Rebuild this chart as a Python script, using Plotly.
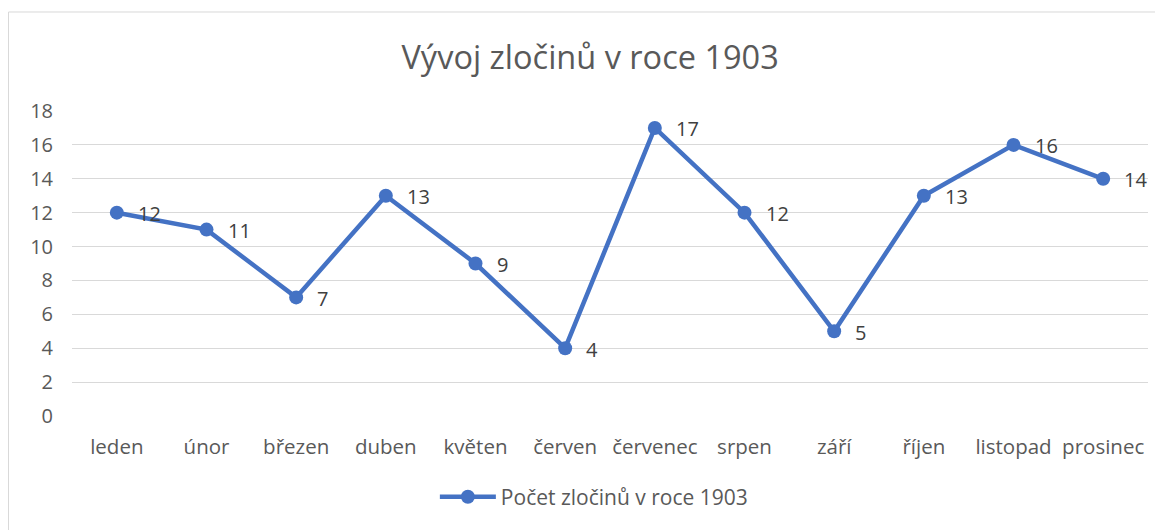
import plotly.graph_objects as go

months = ["leden", "únor", "březen", "duben", "květen", "červen",
          "červenec", "srpen", "září", "říjen", "listopad", "prosinec"]
counts = [12, 11, 7, 13, 9, 4, 17, 12, 5, 13, 16, 14]
series_name = "Počet zločinů v roce 1903"
title_text = "Vývoj zločinů v roce 1903"
y_ticks = list(range(0, 19, 2))

FONT = "'Open Sans', sans-serif"
GREY = "#595959"
BLUE = "#4472C4"

fig = go.Figure()
fig.add_trace(go.Scatter(
    x=list(range(len(months))), y=counts, mode="lines+markers",
    name=series_name,
    line=dict(color=BLUE, width=4.5),
    marker=dict(color=BLUE, size=14),
))

for i, v in enumerate(counts):
    fig.add_annotation(x=i, y=v, text=str(v), showarrow=False,
                       xanchor="left", yanchor="middle", xshift=19, yshift=-1,
                       font=dict(family=FONT, size=20, color="#404040"))

fig.add_shape(type="rect", xref="paper", yref="paper",
              x0=-0.0590, x1=1.05, y0=-0.5, y1=1.3246,
              line=dict(color="#d9d9d9", width=1), fillcolor="rgba(0,0,0,0)",
              layer="below")

fig.update_layout(
    width=1155, height=522,
    margin=dict(l=64, r=15, t=103, b=114),
    paper_bgcolor="white", plot_bgcolor="white",
    title=dict(text=title_text, x=0.504, xanchor="center", y=0.905, yanchor="middle",
               font=dict(family=FONT, size=32.5, color=GREY)),
    xaxis=dict(range=[-0.5, 11.5], tickmode="array",
               tickvals=list(range(len(months))), ticktext=months,
               showgrid=False, zeroline=False, showline=False, ticks="",
               tickfont=dict(family=FONT, size=20.5, color=GREY),
               ticklabelstandoff=16),
    yaxis=dict(range=[0, 18], tickmode="array", tickvals=y_ticks,
               showgrid=True, gridcolor="#d9d9d9", gridwidth=1,
               zeroline=False, showline=False, ticks="",
               tickfont=dict(family=FONT, size=20, color=GREY),
               ticklabelstandoff=18),
    showlegend=True,
    legend=dict(orientation="h", x=0.485, xanchor="center", y=-0.266, yanchor="middle",
                font=dict(family=FONT, size=21, color=GREY), itemwidth=56),
)

fig.write_html("out.html")
